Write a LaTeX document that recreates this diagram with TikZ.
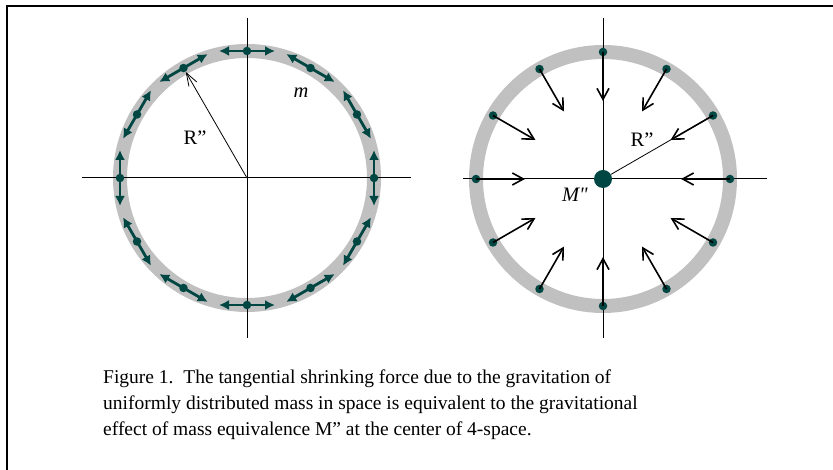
\documentclass[tikz,border=0pt]{standalone}
\usepackage{fontspec}
\setmainfont{Liberation Serif}
\newfontfamily\plainquote[Ligatures=TeXOff]{Liberation Serif}
\usetikzlibrary{arrows.meta, positioning, calc}
\usepackage{xcolor}
\definecolor{shell}{RGB}{192,192,192}
\definecolor{mass}{RGB}{0,70,66}

\begin{document}
\begin{tikzpicture}[x=1pt, y=1pt,
  ring/.style={draw=shell, line width=14pt},
  axis/.style={line width=1pt},
  dot/.style={circle, fill=mass, inner sep=0pt, minimum size=8.5pt},
  bigdot/.style={circle, fill=mass, inner sep=0pt, minimum size=18pt},
  tang/.style={draw=mass, line width=2.8pt, -{Latex[length=10pt, width=10pt]}},
  pull/.style={line width=1.6pt, -{Straight Barb[length=11pt, width=12pt]}},
  rad/.style={line width=0.8pt, -{Straight Barb[length=13pt, width=9pt]}},
  lbl/.style={font=\fontsize{20.5}{24}\selectfont, inner sep=0pt},
  figcap/.style={font=\fontsize{19.5}{26}\selectfont, align=left, inner sep=0pt}]
\useasboundingbox (0,0) rectangle (833,470);
% frame
\draw[line width=2pt] (7,0) -- (7,464) -- (833,464);
% left: tangential force on the shell
\coordinate (c1) at (247,292);
\draw[ring] (c1) circle (127);
\draw[axis] ($(c1)+(-165,0)$) -- ($(c1)+(164,0)$);
\draw[axis] ($(c1)+(0,160)$) -- ($(c1)+(0,-160)$);
\foreach \a in {0,30,...,330} {
  \node[dot] (L\a) at ($(c1)+(\a:127)$) {};
  \draw[tang] (L\a.center) -- ++(\a+90:28);
  \draw[tang] (L\a.center) -- ++(\a-90:28);
}
\draw[rad] (c1) -- (L120);
\node[lbl] (rl) at (195,332) {R”};
\node[lbl] (m) at (301,377) {\textit{m}};
% right: equivalent mass at the center
\coordinate (c2) at (603,291);
\draw[ring] (c2) circle (127);
\draw[axis] ($(c2)+(-140,0)$) -- ($(c2)+(164,0)$);
\draw[axis] ($(c2)+(0,161)$) -- ($(c2)+(0,-159)$);
\node[bigdot] (M) at (c2) {};
\foreach \a in {0,30,...,330} {
  \node[dot] (R\a) at ($(c2)+(\a:127)$) {};
  \draw[pull] (R\a.center) -- ++(\a+180:49);
}
\draw[line width=0.8pt] (M) -- (R30);
\node[lbl] (rr) at (642,330) {R”};
\node[lbl] (mm) at (575,275) {\plainquote\itshape M"};
% caption
\node[figcap, anchor=north west] (caption) at (103,100)
  {Figure 1.\ \ The tangential shrinking force due to the gravitation of\\
   uniformly distributed mass in space is equivalent to the gravitational\\
   effect of mass equivalence M” at the center of 4-space.};
\end{tikzpicture}
\end{document}
